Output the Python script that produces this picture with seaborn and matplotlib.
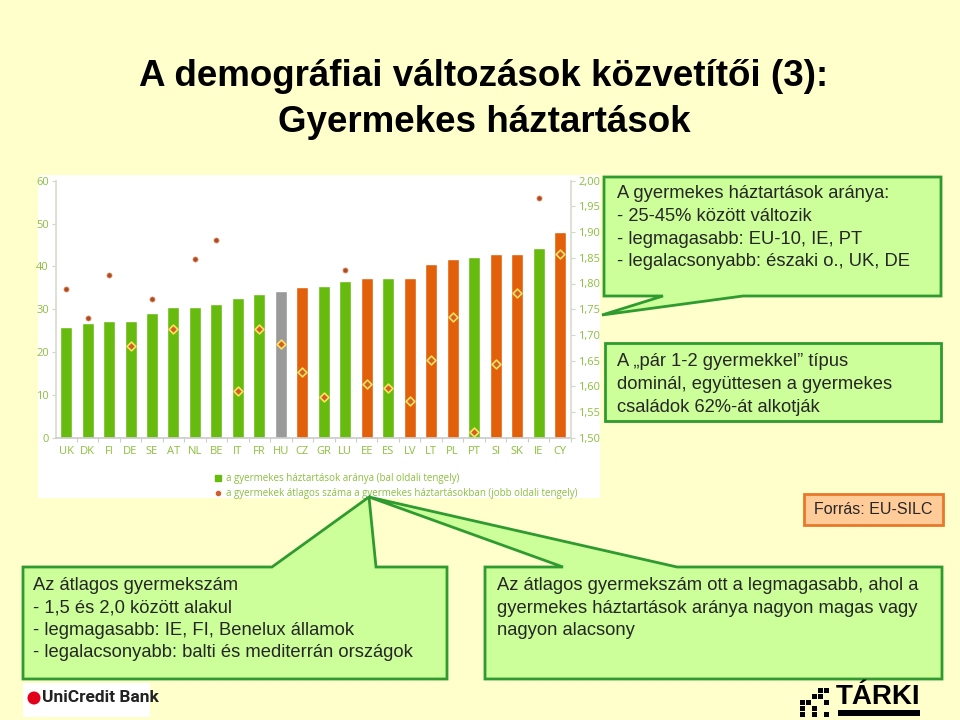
import numpy as np
import pandas as pd
import matplotlib
matplotlib.use("Agg")
import matplotlib.pyplot as plt
import seaborn as sns
from matplotlib.patches import Polygon, Rectangle, Circle
from matplotlib.lines import Line2D

# ---------------- data ----------------
countries = ["UK", "DK", "FI", "DE", "SE", "AT", "NL", "BE", "IT", "FR", "HU", "CZ",
             "GR", "LU", "EE", "ES", "LV", "LT", "PL", "PT", "SI", "SK", "IE", "CY"]
share = [25.9, 26.7, 27.2, 27.3, 29.0, 30.5, 30.6, 31.3, 32.6, 33.6, 34.2, 35.1,
         35.5, 36.7, 37.3, 37.4, 37.4, 40.6, 41.7, 42.2, 42.9, 42.9, 44.4, 48.1]
avg_children = [1.789, 1.733, 1.817, 1.678, 1.769, 1.711, 1.848, 1.885, 1.591, 1.711,
                1.682, 1.628, 1.579, 1.827, 1.605, 1.597, 1.571, 1.651, 1.735, 1.512,
                1.644, 1.782, 1.966, 1.857]
groups = ["EU15"] * 10 + ["HU", "EU10", "EU15", "EU15", "EU10", "EU15", "EU10", "EU10",
                          "EU10", "EU15", "EU10", "EU10", "EU15", "EU10"]
left_ticks = [0, 10, 20, 30, 40, 50, 60]
right_ticks = [1.50, 1.55, 1.60, 1.65, 1.70, 1.75, 1.80, 1.85, 1.90, 1.95, 2.00]

title_lines = ["A demográfiai változások közvetítői (3):", "Gyermekes háztartások"]
legend_labels = ["a gyermekes háztartások aránya (bal oldali tengely)",
                 "a gyermekek átlagos száma a gyermekes háztartásokban (jobb oldali tengely)"]
box1_text = ["A gyermekes háztartások aránya:", "- 25-45% között változik",
             "- legmagasabb: EU-10, IE, PT", "- legalacsonyabb: északi o., UK, DE"]
box2_text = ["A \u201epár 1-2 gyermekkel\u201d típus", "dominál, együttesen a gyermekes",
             "családok 62%-át alkotják"]
box3_text = ["Az átlagos gyermekszám", "- 1,5 és 2,0 között alakul",
             "- legmagasabb: IE, FI, Benelux államok",
             "- legalacsonyabb: balti és mediterrán országok"]
box4_text = ["Az átlagos gyermekszám ott a legmagasabb, ahol a",
             "gyermekes háztartások aránya nagyon magas vagy", "nagyon alacsony"]
source_text = "Forrás: EU-SILC"

# ---------------- style ----------------
GREEN = "#66bb0e"
ORANGE = "#e2600a"
GREY = "#9a9a9a"
palette = {"EU15": GREEN, "EU10": ORANGE, "HU": GREY}
TICK_GREEN = "#8cbf3c"
BG = "#ffffcc"
BOX_FILL = "#ccff99"
BOX_EDGE = "#2f9a2f"

sns.set_theme(style="white")
plt.rcParams["font.family"] = ["Open Sans", "DejaVu Sans"]

W, H = 960, 720
fig = plt.figure(figsize=(W / 100, H / 100), dpi=100, facecolor=BG)

# background layer
bg = fig.add_axes([0, 0, 1, 1], zorder=0)
bg.set_xlim(0, W)
bg.set_ylim(H, 0)
bg.axis("off")
bg.add_patch(Rectangle((38, 175), 562, 323, facecolor="white", edgecolor="none"))

# ---------------- chart ----------------
x0, x1, ytop, ybot = 56, 571, 180.7, 437.7
ax = fig.add_axes([x0 / W, 1 - ybot / H, (x1 - x0) / W, (ybot - ytop) / H], zorder=2)
ax.set_facecolor("none")

df = pd.DataFrame({"country": countries, "share": share, "group": groups,
                   "avg": avg_children, "pos": np.arange(len(countries))})

sns.barplot(data=df, x="country", y="share", hue="group", order=countries,
            palette=palette, dodge=False, width=0.56, saturation=1,
            legend=False, ax=ax)
ax.set_ylim(0, 60)
ax.set_xlim(-0.47, len(countries) - 0.49)
ax.set_yticks(left_ticks)
ax.set_yticklabels([str(t) for t in left_ticks])
ax.set_xlabel("")
ax.set_ylabel("")
ax.tick_params(axis="y", colors="#cfd8c0", labelcolor=TICK_GREEN, labelsize=8,
               length=3, width=0.8, pad=2, left=True)
ax.tick_params(axis="x", which="major", length=0, labelcolor=TICK_GREEN,
               labelsize=8, pad=6)
ax.set_xticks(np.arange(-0.5, len(countries), 1), minor=True)
ax.tick_params(axis="x", which="minor", length=3, color="#cccccc", width=0.8, bottom=True)
for s in ["top", "right"]:
    ax.spines[s].set_visible(False)
ax.spines["left"].set_color("#d8dccf")
ax.spines["bottom"].set_color("#cccccc")
ax.grid(False)

ax2 = ax.twinx()
ax2.set_ylim(1.5, 2.0)
inside = [((a - 1.5) / 0.5 * 60) < s for a, s in zip(avg_children, share)]
df["inside"] = inside
sns.scatterplot(data=df[~df["inside"]], x="pos", y="avg", ax=ax2, marker="o",
                s=14, color="#b04a26", edgecolor="#e8a070", linewidth=0.5,
                legend=False, zorder=5)
sns.scatterplot(data=df[df["inside"]], x="pos", y="avg", ax=ax2, marker="D",
                s=20, color="#d0602a", edgecolor="#ffe25a", linewidth=1.2,
                legend=False, zorder=5)
ax2.set_yticks(right_ticks)
ax2.set_yticklabels([f"{t:.2f}".replace(".", ",") for t in right_ticks])
ax2.tick_params(axis="y", colors="#cfd8c0", labelcolor=TICK_GREEN, labelsize=8,
                length=3, width=0.8, pad=2, right=True)
ax2.set_xlabel("")
ax2.set_ylabel("")
for s in ["top", "left", "bottom"]:
    ax2.spines[s].set_visible(False)
ax2.spines["right"].set_color("#d8dccf")
ax2.grid(False)
ax.set_xlim(-0.47, len(countries) - 0.49)

handles = [Line2D([], [], marker="s", linestyle="none", markersize=5,
                  markerfacecolor=GREEN, markeredgecolor=GREEN),
           Line2D([], [], marker="o", linestyle="none", markersize=3,
                  markerfacecolor="#d0602a", markeredgecolor="#d0602a")]
fig.legend(handles, legend_labels, loc="upper left",
           bbox_to_anchor=(215 / W, 1 - 473 / H), frameon=False, fontsize=7,
           labelcolor=TICK_GREEN, handlelength=0.7, handletextpad=0.4,
           labelspacing=0.45, borderpad=0, borderaxespad=0)

# ---------------- foreground (boxes, text) ----------------
fg = fig.add_axes([0, 0, 1, 1], zorder=10)
fg.set_xlim(0, W)
fg.set_ylim(H, 0)
fg.axis("off")
fg.patch.set_alpha(0)

TXT = ["Liberation Sans", "DejaVu Sans"]
FS = 13.2

for i, line in enumerate(title_lines):
    fg.text(484, 77 + 46 * i, line, ha="center", va="center", fontsize=26.5,
            fontweight="bold", family=["Liberation Sans Narrow", "Liberation Sans", "DejaVu Sans"],
            color="black")

def bubble(pts):
    fg.add_patch(Polygon(pts, closed=True, facecolor=BOX_FILL, edgecolor=BOX_EDGE,
                         linewidth=2, joinstyle="miter"))

bubble([(604, 177), (941, 177), (941, 296), (743, 296), (602, 315), (663, 296), (604, 296)])
for i, line in enumerate(box1_text):
    fg.text(617, 194 + 22.6 * i, line, ha="left", va="center", fontsize=FS, family=TXT)

bubble([(605, 343), (941, 343), (941, 421), (605, 421)])
for i, line in enumerate(box2_text):
    fg.text(617, 362 + 22.7 * i, line, ha="left", va="center", fontsize=FS, family=TXT)

fg.add_patch(Rectangle((804, 494), 139, 31, facecolor="#ffcc99", edgecolor="#e8782a",
                       linewidth=2))
fg.text(873.5, 510, source_text, ha="center", va="center", fontsize=11.5, family=TXT)

bubble([(23, 567), (272, 567), (369, 497), (376, 567), (447, 567), (447, 679), (23, 679)])
for i, line in enumerate(box3_text):
    fg.text(33, 586 + 22.2 * i, line, ha="left", va="center", fontsize=FS, family=TXT)

bubble([(485, 567), (563, 567), (369, 497), (677, 567), (942, 567), (942, 679), (485, 679)])
for i, line in enumerate(box4_text):
    fg.text(497, 586 + 22.2 * i, line, ha="left", va="center", fontsize=FS, family=TXT)

# logos
fg.add_patch(Rectangle((23, 683), 127, 34, facecolor="white", edgecolor="none"))
fg.add_patch(Circle((34, 698), 6.5, facecolor="#e2001a", edgecolor="none"))
fg.text(42, 698, "UniCredit Bank", ha="left", va="center", fontsize=12.5,
        fontweight="bold", family=["Roboto", "DejaVu Sans"], color="#222222")

sq = [(800, 700), (806, 700), (812, 694), (818, 694), (818, 688), (800, 706), (800, 712),
      (812, 706), (824, 688), (824, 700), (812, 712), (824, 712)]
for (x, y) in sq:
    fg.add_patch(Rectangle((x, y), 4.5, 4.5, facecolor="black", edgecolor="none"))
fg.text(878, 697, "TÁRKI", ha="center", va="center", fontsize=20, fontweight="black",
        family=["Liberation Sans Narrow", "Liberation Sans", "DejaVu Sans"], color="black")
fg.add_patch(Rectangle((838, 710), 82, 6, facecolor="black", edgecolor="none"))

fig.savefig("out.png", dpi=100, facecolor=BG)
